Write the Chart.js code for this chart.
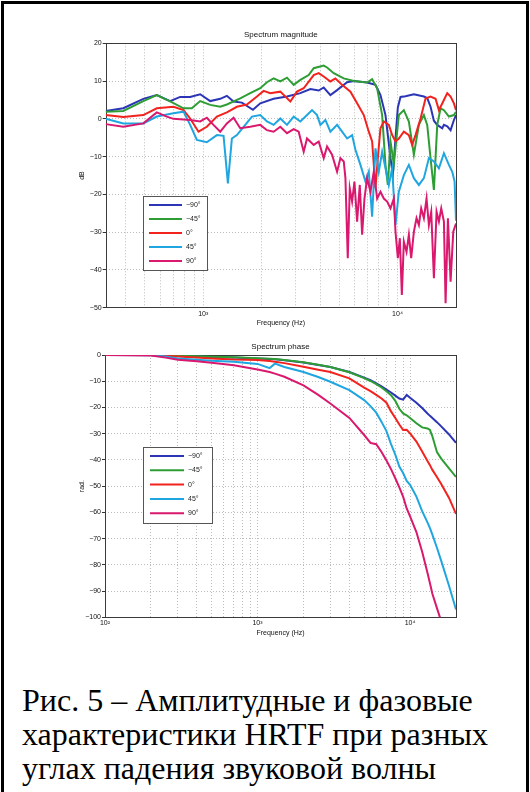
<!DOCTYPE html>
<html>
<head>
<meta charset="utf-8">
<script src="https://cdn.jsdelivr.net/npm/chart.js@4.4.1/dist/chart.umd.min.js"></script>
<style>
body { margin: 0; background: #fff; width: 530px; height: 792px; overflow: hidden; position: relative; }
#frame { position: absolute; left: 1px; top: 1px; width: 522px; height: 820px; border: 3px solid #000; }
#magChart { position: absolute; left: 0; top: 0; }
#phaseChart { position: absolute; left: 0; top: 330px; }
#caption { position: absolute; left: 22px; top: 683px; font-family: "Liberation Serif", serif; font-size: 32px; line-height: 34px; color: #000; white-space: nowrap; }
</style>
</head>
<body>
<div id="frame"></div>
<canvas id="magChart" width="530" height="330"></canvas>
<canvas id="phaseChart" width="530" height="320"></canvas>
<div id="caption">Рис. 5 – Амплитудные и фазовые<br>характеристики HRTF при разных<br>углах падения звуковой волны</div>
<script>
// серии: углы падения
var angleLabels = ["−90°", "−45°", "0°", "45°", "90°"];
var seriesColors = ["#2b35b5", "#2e9e34", "#f2231e", "#1fa6e0", "#d9186e"];

// Spectrum magnitude (dB), частоты в Гц
var magFreqM90 = [315, 388, 492, 577, 676, 761, 857, 965, 1087, 1224, 1324, 1433, 1582, 1803, 1967, 2304, 2699, 3162, 3561, 3931, 4171, 4515, 4887, 5503, 5956, 6977, 7702, 8173, 8673, 9203, 9462, 9766, 10040, 10363, 10996, 12139, 13669, 14220, 14794, 15391, 16013, 16993, 17332, 18031, 18759, 19516, 20000];
var magM90 = [2.1, 2.8, 5.3, 6.3, 4.7, 5.8, 5.8, 6.5, 4.7, 5.3, 6.1, 4.6, 4.3, 2.4, 4.1, 5.3, 5.9, 6.8, 7.9, 7.5, 8.3, 6.3, 7.6, 9.7, 10.0, 9.6, 9.0, 6.3, 1.0, -10.4, -14.9, -5.0, 3.0, 5.8, 6.0, 6.5, 5.9, 5.5, 3.2, -0.5, -1.6, -2.5, -1.6, -2.0, -3.0, -0.3, 1.0];

var magFreqM45 = [315, 388, 492, 577, 676, 792, 874, 965, 1087, 1224, 1324, 1551, 1747, 1967, 2129, 2304, 2494, 2699, 2922, 3162, 3491, 3705, 4171, 4340, 4697, 5289, 5956, 6977, 7403, 7856, 8336, 8673, 8917, 9203, 9575, 10160, 10781, 11440, 12139, 12881, 13669, 14220, 14794, 15391, 16013, 16659, 17332, 18391, 19516, 20000];
var magM45 = [1.9, 2.1, 4.7, 6.3, 4.6, 2.8, 2.8, 4.7, 3.7, 3.2, 3.8, 5.4, 6.8, 8.1, 9.7, 10.7, 9.9, 10.9, 9.0, 10.3, 11.6, 13.4, 14.1, 13.6, 12.1, 10.7, 10.0, 9.6, 10.5, 8.1, 1.0, -12.2, -17.5, -6.0, -12.0, 1.0, 2.3, -0.7, -9.5, -1.6, 1.0, -1.6, -10.4, -18.8, -1.6, 2.8, 2.3, 0.6, 1.0, 1.9];

var magFreq0 = [315, 388, 492, 577, 703, 792, 857, 946, 1044, 1176, 1324, 1491, 1679, 1891, 2046, 2215, 2494, 2808, 3040, 3290, 3705, 3931, 4171, 4515, 4791, 5186, 5725, 6196, 6706, 7116, 7403, 7551, 7702, 7919, 8173, 8503, 9023, 9387, 9766, 10160, 10781, 11440, 11901, 12382, 13138, 13942, 14794, 15699, 16333, 17332, 18031, 18759, 19516, 20000];
var mag0 = [1.0, 0.5, 1.0, 2.8, 3.2, 2.3, 0.1, -3.4, -2.1, 0.6, 1.7, 3.2, 3.8, 5.9, 7.4, 6.8, 7.2, 4.6, 7.2, 8.1, 11.6, 12.1, 11.2, 9.9, 10.7, 9.0, 7.2, 4.1, 1.0, -3.4, -6.0, -12.2, -18.4, -10.4, -2.5, -0.7, -1.6, -4.3, -6.0, -5.2, -3.4, -4.3, -6.9, -4.3, 0.1, 5.4, 5.9, 5.3, 2.3, 5.0, 6.8, 5.9, 4.1, 2.3];

var magFreq45 = [315, 388, 492, 577, 703, 792, 857, 928, 1044, 1176, 1273, 1340, 1405, 1491, 1646, 1782, 1967, 2129, 2304, 2494, 2699, 2922, 3162, 3423, 3632, 3854, 4010, 4255, 4515, 4887, 5186, 5503, 5839, 6075, 6446, 6840, 7116, 7403, 7702, 8013, 8336, 8673, 9023, 9387, 9766, 10160, 10781, 11440, 12139, 12881, 13669, 14504, 15391, 16333, 17332, 18391, 19134, 19670, 20000];
var mag45 = [0, -1.2, -1.2, 0.6, 1.5, 1.9, -1.6, -5.6, -6.2, -4.3, -4.5, -17.1, -5.2, -4.3, -1.6, 0.6, 1.0, -0.7, -1.6, 0.1, -1.6, 0.6, -0.7, 1.0, 2.3, 1.0, -1.6, -0.3, -3.4, -1.6, -3.4, -5.2, -4.3, -8.2, -12.2, -16.6, -14.0, -25.9, -7.8, -14.0, -8.7, -13.1, -17.5, -13.1, -28.1, -19.3, -14.9, -12.2, -15.7, -17.5, -15.7, -10.4, -11.3, -13.1, -9.1, -12.2, -14.0, -16.6, -27.0];

var magFreq90 = [315, 388, 492, 577, 650, 703, 857, 965, 1044, 1130, 1224, 1324, 1433, 1551, 1747, 1967, 2129, 2304, 2494, 2699, 2922, 3100, 3290, 3423, 3705, 3931, 4171, 4340, 4605, 4887, 5084, 5289, 5395, 5546, 5680, 5839, 6003, 6196, 6395, 6575, 6760, 6977, 7258, 7551, 7856, 8173, 8503, 8846, 9203, 9575, 9766, 10040, 10281, 10528, 10781, 11127, 11440, 11761, 12139, 12529, 12881, 13243, 13669, 14108, 14504, 14912, 15391, 15886, 16333, 16792, 17332, 17678, 18174, 18759, 19362, 20000];
var mag90 = [-1.4, -2.1, -1.2, 1.7, 0.6, 0, -0.3, -0.7, 0.3, -1.6, -3.4, -1.2, 0.3, -2.5, -2.1, -1.6, -3.0, -3.4, -2.1, -3.8, -2.7, -3.4, -8.7, -5.2, -6.9, -6.0, -10.4, -7.3, -9.5, -14.0, -10.4, -11.3, -15.7, -36.9, -18.4, -21.9, -16.6, -27.2, -17.5, -30.7, -21.1, -15.7, -19.3, -14.0, -21.1, -19.3, -21.1, -21.9, -23.7, -21.1, -29.9, -36.9, -31.6, -46.6, -32.5, -35.2, -30.7, -36.9, -29.9, -26.3, -28.1, -23.7, -26.3, -21.1, -28.1, -24.6, -42.2, -24.6, -27.2, -23.7, -27.2, -48.8, -26.3, -43.1, -29.9, -27.7];

// Spectrum phase (rad.)
var phaseFreq = [100, 200, 250, 300, 400, 500, 700, 1000, 1200, 1300, 1500, 2000, 2500, 3000, 4000, 5000, 5500, 6000, 6500, 7000, 7500, 8000, 8500, 9000, 9500, 10000, 11000, 12000, 13000, 13500, 14000, 15000, 16000, 18000, 20000];
var phaseM90 = [0, 0, -0.2, -0.4, -0.6, -0.8, -1.0, -1.3, -1.5, -1.6, -2.0, -2.9, -3.8, -4.6, -6.5, -8.6, -9.6, -10.8, -12.0, -13.2, -14.3, -15.5, -16.6, -17.0, -15.2, -16.3, -18.2, -20.2, -22.3, -23.2, -24.0, -25.6, -27.2, -30.3, -33.5];
var phaseM45 = [0, 0, -0.2, -0.3, -0.5, -0.7, -0.9, -1.2, -1.4, -1.5, -1.9, -2.8, -3.7, -4.6, -6.6, -8.8, -9.9, -11.1, -12.4, -13.8, -15.3, -17.5, -20.5, -22.3, -23.0, -24.0, -26.0, -27.6, -28.0, -28.6, -31.0, -37.0, -39.5, -43.2, -46.5];
var phase0 = [0, 0, -0.3, -0.6, -1.0, -1.3, -1.7, -1.9, -2.3, -2.6, -3.1, -4.5, -5.6, -6.5, -8.9, -12.4, -13.8, -15.2, -16.6, -18.2, -21.5, -24.0, -26.5, -28.6, -28.5, -29.9, -33.0, -36.8, -40.4, -42.0, -43.8, -46.5, -49.2, -54.5, -60.6];
var phase45 = [0, -0.1, -0.6, -1.3, -1.8, -2.2, -2.6, -3.4, -5.0, -3.3, -4.6, -6.5, -8.4, -10.2, -13.4, -17.2, -19.5, -22.0, -25.5, -29.0, -34.0, -38.0, -42.5, -45.0, -48.0, -49.5, -54.0, -59.5, -63.8, -66.0, -68.5, -73.5, -78.5, -88.0, -97.0];
var phase90 = [0, -0.2, -1.0, -1.8, -2.4, -3.0, -3.9, -5.5, -6.5, -7.1, -8.3, -11.6, -15.2, -18.5, -24.0, -30.5, -33.5, -34.0, -37.0, -40.2, -43.5, -47.0, -50.5, -54.0, -58.5, -61.5, -67.5, -75.0, -83.0, -87.0, -91.0, -96.5, -101.5, -110.0, -118.0];

// деления оси частот
var decadeTicks = [100, 1000, 10000];
var decadeLabels = ["10²", "10³", "10⁴"];
var magTicks = [400, 500, 600, 700, 800, 900, 1000, 2000, 3000, 4000, 5000, 6000, 7000, 8000, 9000, 10000, 20000];
var phaseTicks = [100, 200, 300, 400, 500, 600, 700, 800, 900, 1000, 2000, 3000, 4000, 5000, 6000, 7000, 8000, 9000, 10000, 20000];

function toPoints(freq, vals) {
    var pts = [];
    for (var i = 0; i < freq.length; i++) {
        pts.push({x: freq[i], y: vals[i]});
    }
    return pts;
}

function makeDatasets(freqs, vals) {
    var sets = [];
    for (var i = 0; i < vals.length; i++) {
        sets.push({
            label: angleLabels[i],
            data: toPoints(freqs[i], vals[i]),
            borderColor: seriesColors[i],
            borderWidth: 2,
            pointRadius: 0,
            tension: 0,
            order: 5 - i
        });
    }
    return sets;
}

function minusLabel(v) {
    return v < 0 ? "−" + Math.abs(v) : "" + v;
}

// рамка вокруг области графика
var plotBox = {
    id: "plotBox",
    beforeDatasetsDraw: function (chart) {
        var a = chart.chartArea, ctx = chart.ctx;
        ctx.save();
        ctx.strokeStyle = "#3a3a3a";
        ctx.lineWidth = 1;
        ctx.strokeRect(Math.round(a.left) + 0.5, Math.round(a.top) + 0.5, Math.round(a.right - a.left), Math.round(a.bottom - a.top));
        ctx.restore();
    }
};

// легенда в рамке внутри графика
var boxLegend = {
    id: "boxLegend",
    afterDatasetsDraw: function (chart, args, o) {
        var ctx = chart.ctx;
        ctx.save();
        ctx.fillStyle = "#fff";
        ctx.fillRect(o.x, o.y, o.w, o.h);
        ctx.strokeStyle = "#555";
        ctx.lineWidth = 1;
        ctx.strokeRect(o.x + 0.5, o.y + 0.5, o.w, o.h);
        ctx.font = "7px 'Liberation Sans'";
        ctx.textBaseline = "middle";
        chart.data.datasets.forEach(function (ds, i) {
            var y = o.y + o.first + i * o.step;
            ctx.strokeStyle = ds.borderColor;
            ctx.lineWidth = 2;
            ctx.beginPath();
            ctx.moveTo(o.x + o.lineStart, y);
            ctx.lineTo(o.x + o.lineEnd, y);
            ctx.stroke();
            ctx.fillStyle = "#222";
            ctx.fillText(ds.label, o.x + o.textX, y);
        });
        ctx.restore();
    }
};

function makeChart(id, datasets, opt) {
    var fontSmall = {family: "'Liberation Sans', Arial, sans-serif", size: 7};
    return new Chart(document.getElementById(id), {
        type: "line",
        data: {datasets: datasets},
        options: {
            responsive: false,
            animation: false,
            devicePixelRatio: 1,
            layout: {padding: opt.padding},
            plugins: {
                legend: {display: false},
                tooltip: {enabled: false},
                title: {
                    display: true,
                    text: opt.title,
                    fullSize: false,
                    color: "#111",
                    font: {family: "'Liberation Sans', Arial, sans-serif", size: 8, weight: "normal"},
                    padding: {top: 0, bottom: 3.5}
                },
                boxLegend: opt.legend
            },
            scales: {
                x: {
                    type: "logarithmic",
                    min: opt.xMin,
                    max: 20000,
                    afterBuildTicks: function (s) {
                        s.ticks = opt.xTicks.map(function (v) { return {value: v}; });
                    },
                    afterFit: function (s) { s.height = 20; },
                    ticks: {
                        autoSkip: false,
                        maxRotation: 0,
                        padding: 2,
                        color: "#111",
                        font: fontSmall,
                        callback: function (v) {
                            var k = decadeTicks.indexOf(v);
                            return k >= 0 ? decadeLabels[k] : "";
                        }
                    },
                    grid: {color: "#bcbcbc", lineWidth: 1, drawTicks: false},
                    border: {display: false, dash: [1, 2]},
                    title: {display: true, text: "Frequency (Hz)", color: "#111", font: fontSmall, padding: {top: 0, bottom: opt.xTitlePad}}
                },
                y: {
                    min: opt.yMin,
                    max: opt.yMax,
                    afterFit: function (s) { s.width = opt.yWidth; },
                    ticks: {stepSize: 10, padding: 1, color: "#111", font: fontSmall, callback: minusLabel},
                    grid: {color: "#bcbcbc", lineWidth: 1, drawTicks: true, tickLength: 3, tickColor: "#333"},
                    border: {display: false, dash: [1, 2]},
                    title: {display: true, text: opt.yTitle, color: "#111", font: fontSmall, padding: {top: 17.8, bottom: 0}}
                }
            }
        },
        plugins: [plotBox, boxLegend]
    });
}

makeChart("magChart",
    makeDatasets([magFreqM90, magFreqM45, magFreq0, magFreq45, magFreq90], [magM90, magM45, mag0, mag45, mag90]),
    {
        title: "Spectrum magnitude",
        padding: {left: 60, right: 74, top: 30.2, bottom: 2.3},
        xMin: 315, xTicks: magTicks, xTitlePad: 0.5,
        yMin: -50, yMax: 20, yWidth: 45.7, yTitle: "dB",
        legend: {x: 143, y: 196, w: 64, h: 74, first: 9, step: 14, lineStart: 6, lineEnd: 39, textX: 43}
    });

var pf = [phaseFreq, phaseFreq, phaseFreq, phaseFreq, phaseFreq];
makeChart("phaseChart",
    makeDatasets(pf, [phaseM90, phaseM45, phase0, phase45, phase90]),
    {
        title: "Spectrum phase",
        padding: {left: 60, right: 74, top: 11.9, bottom: 12.7},
        xMin: 100, xTicks: phaseTicks, xTitlePad: 0,
        yMin: -100, yMax: 0, yWidth: 45, yTitle: "rad.",
        legend: {x: 143, y: 117, w: 69, h: 76, first: 9, step: 14.3, lineStart: 7, lineEnd: 41, textX: 45}
    });
</script>
</body>
</html>
